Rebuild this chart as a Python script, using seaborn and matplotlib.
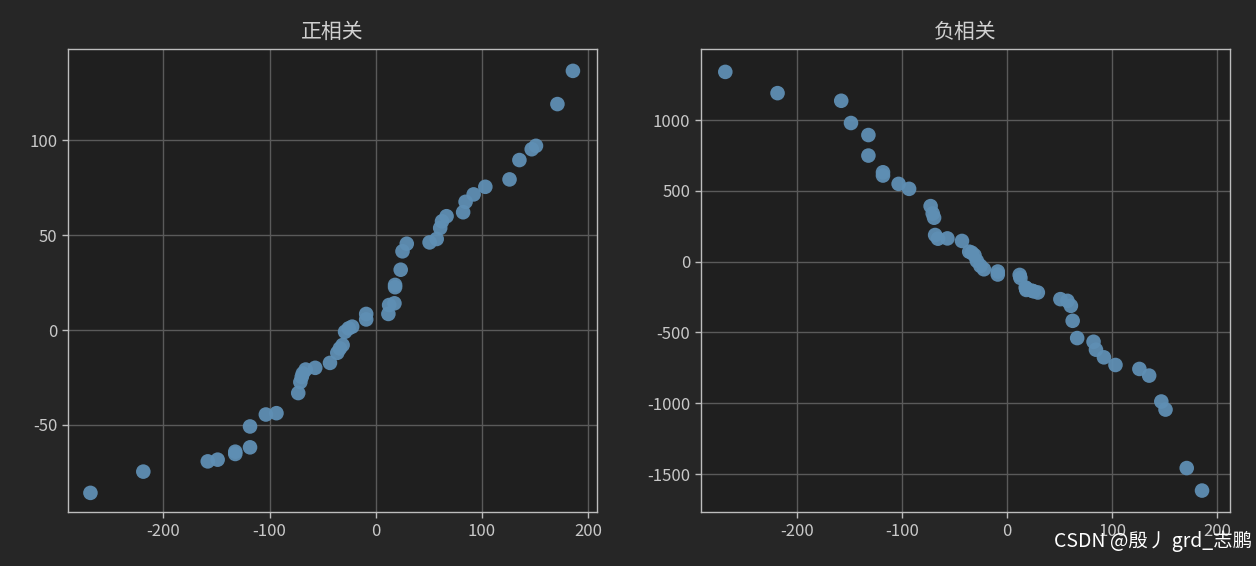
import matplotlib
matplotlib.use("Agg")
import matplotlib.pyplot as plt
import seaborn as sns

x = [-268.7, -218.9, -158.2, -148.9, -132.3, -132.3, -118.4, -118.4, -103.5, -93.5,
     -73, -71, -69.7, -68.7, -66, -57, -43.1, -36.2, -33.8, -31.2,
     -28.9, -25.5, -22.2, -9, -9, 11.9, 12.6, 17.6, 18.2, 18.2,
     23.5, 25.2, 29.2, 50.7, 57.4, 60.7, 62.4, 66.7, 82.3, 84.6,
     92.2, 103.2, 126, 135.3, 146.9, 150.9, 171.1, 185.7]
y_pos = [-85.8, -74.6, -69.2, -68.3, -65.3, -64.1, -61.8, -50.8, -44.5, -43.8,
         -33.2, -27.4, -24.7, -22.9, -20.8, -19.9, -17.3, -12, -9.7, -7.9,
         -0.9, 0.9, 1.8, 8.5, 5.6, 8.5, 13.2, 14.1, 23.8, 22.6,
         31.8, 41.5, 45.5, 46.2, 48, 53.8, 57.3, 60, 62.1, 67.6,
         71.5, 75.5, 79.4, 89.6, 95.3, 97.1, 119.1, 136.6]
y_neg = [1340, 1190, 1136, 979, 894, 749, 631, 608, 549, 514,
         392, 340, 310, 188, 162, 164, 146, 70, 63, 45,
         5, -30, -54, -70, -91, -94, -115, -183, -200, -190,
         -205, -210, -218, -265, -277, -312, -418, -540, -566, -622,
         -676, -730, -758, -805, -988, -1045, -1458, -1617]
titles = ["正相关", "负相关"]

bg = "#1f1f1f"
fg = "#c8c8c8"
sns.set_theme(style="darkgrid")
plt.rcParams["font.family"] = ["Noto Sans CJK SC", "DejaVu Sans"]
plt.rcParams["axes.unicode_minus"] = False

fig = plt.figure(figsize=(12.56, 5.66), dpi=100, facecolor="#262626")
ax1 = fig.add_axes([0.054, 0.095, 0.421, 0.818])
ax2 = fig.add_axes([0.558, 0.095, 0.421, 0.818])

for ax, yy, t in [(ax1, y_pos, titles[0]), (ax2, y_neg, titles[1])]:
    ax.set_facecolor(bg)
    sns.scatterplot(x=x, y=yy, ax=ax, s=110, color="#5f8fb4", edgecolor="none", alpha=0.95)
    ax.grid(True, color="#5a5a5a", linewidth=1)
    for sp in ax.spines.values():
        sp.set_visible(True)
        sp.set_color("#bdbdbd")
        sp.set_linewidth(1)
    ax.tick_params(colors=fg, labelsize=12, length=4, width=1, color="#bdbdbd", left=True, bottom=True)
    ax.set_title(t, color="#d0d0d0", fontsize=15, pad=8)

ax1.set_xlim(-290, 208)
ax1.set_ylim(-96, 148)
ax1.set_xticks([-200, -100, 0, 100, 200])
ax1.set_yticks([-50, 0, 50, 100])
ax2.set_xlim(-292, 212)
ax2.set_ylim(-1770, 1500)
ax2.set_xticks([-200, -100, 0, 100, 200])
ax2.set_yticks([-1500, -1000, -500, 0, 500, 1000])

fig.text(0.997, 0.025, "CSDN @殷丿 grd_志鹏", color="white", fontsize=14, ha="right", va="bottom")
fig.savefig("out.png", dpi=100, facecolor=fig.get_facecolor())
